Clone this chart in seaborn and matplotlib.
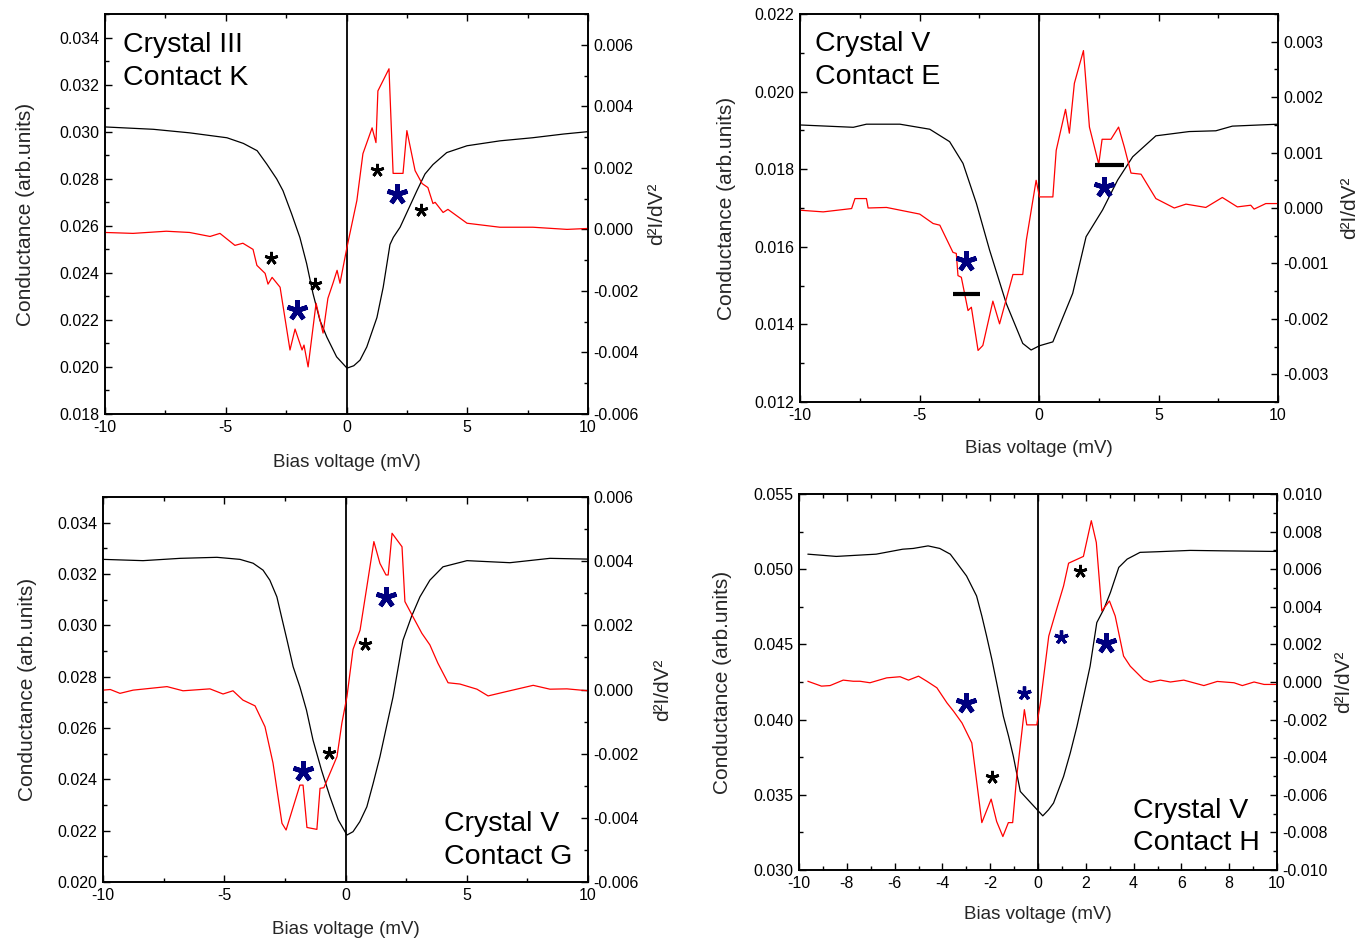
import matplotlib
matplotlib.use("Agg")
import matplotlib.pyplot as plt
import seaborn as sns
from matplotlib.ticker import MultipleLocator, FormatStrFormatter

# ---------------- data ----------------
# Panel 1: Crystal III, Contact K
p1_cond_x = [-10, -8, -6.5, -4.95, -4.27, -3.7, -3.3, -2.89, -2.63, -2.27, -1.93, -1.65, -1.39, -1.1, -0.81,
             -0.41, 0.02, 0.3, 0.56, 0.84, 1.26, 1.52, 1.8, 1.94, 2.22, 2.92, 3.25, 3.58, 4.15, 4.99, 6.36,
             7.7, 9.0, 10]
p1_cond_y = [0.0302, 0.0301, 0.02995, 0.02974, 0.0295, 0.02919, 0.02862, 0.02799, 0.02749, 0.0265, 0.0255,
             0.02439, 0.02313, 0.02198, 0.02126, 0.02043, 0.01995, 0.02005, 0.02029, 0.02085, 0.0221,
             0.02339, 0.0252, 0.02551, 0.02594, 0.0275, 0.0282, 0.0286, 0.02911, 0.0294, 0.02961, 0.02974,
             0.0299, 0.0300]
p1_d2_x = [-10, -8.84, -7.46, -6.5, -5.65, -5.24, -4.62, -4.29, -3.87, -3.71, -3.37, -3.25, -3.08, -2.75,
           -2.34, -2.13, -1.84, -1.76, -1.59, -1.26, -0.97, -0.77, -0.56, -0.39, -0.27, 0.02, 0.43, 0.68,
           1.06, 1.22, 1.3, 1.76, 1.93, 2.34, 2.5, 2.84, 3.13, 3.37, 3.58, 3.67, 4.0, 4.2, 4.99, 6.35,
           7.72, 9.13, 10]
p1_d2_y = [-0.0001, -0.00013, -0.00006, -0.0001, -0.00023, -0.00013, -0.00052, -0.00045, -0.00065, -0.00117,
           -0.00143, -0.00178, -0.00156, -0.00188, -0.00392, -0.00324, -0.00392, -0.00376, -0.00447, -0.0024,
           -0.00337, -0.00224, -0.00175, -0.00133, -0.00175, -0.00058, 0.00094, 0.00246, 0.0033, 0.00282,
           0.0045, 0.00522, 0.00182, 0.00182, 0.00321, 0.00191, 0.00149, 0.00136, 0.00084, 0.00088, 0.00055,
           0.00065, 0.0002, 0.00007, 0.00007, 0.0, 0.00003]
p1_star_x = [-3.13, -1.30, 1.25, 3.07, -2.06, 2.08]
p1_star_y = [-0.00092, -0.00176, 0.00193, 0.00064, -0.00263, 0.00116]
p1_star_kind = ["small_black", "small_black", "small_black", "small_black", "big_blue", "big_blue"]

# Panel 2: Crystal V, Contact E
p2_cond_x = [-10, -7.77, -7.22, -5.82, -4.57, -3.74, -3.18, -2.62, -2.07, -1.37, -0.68, -0.33, 0.02, 0.58,
             1.41, 1.97, 2.66, 3.29, 3.92, 4.89, 6.28, 7.4, 8.09, 10]
p2_cond_y = [0.01914, 0.01908, 0.01916, 0.01916, 0.01903, 0.01871, 0.01815, 0.01712, 0.01592, 0.01454,
             0.01351, 0.01334, 0.01345, 0.01355, 0.0148, 0.01626, 0.01695, 0.01772, 0.01832, 0.01886,
             0.01897, 0.01899, 0.01911, 0.01916]
p2_d2_x = [-10, -9.03, -7.84, -7.7, -7.22, -7.15, -6.38, -4.99, -4.43, -4.15, -3.6, -3.46, -3.39, -3.25,
           -2.97, -2.83, -2.55, -2.35, -1.93, -1.65, -1.09, -0.68, -0.53, -0.12, 0.02, 0.58, 0.72, 1.11,
           1.27, 1.48, 1.86, 2.11, 2.5, 2.64, 3.01, 3.33, 3.57, 3.85, 4.27, 4.89, 5.66, 6.15, 6.98, 7.67,
           8.3, 8.86, 9.0, 9.49, 10]
p2_d2_y = [-0.00004, -0.00007, -0.00001, 0.00017, 0.00017, 0.0, 0.00001, -0.00011, -0.00028, -0.00031,
           -0.0008, -0.00082, -0.00122, -0.00125, -0.00185, -0.00179, -0.00257, -0.00248, -0.00168, -0.00209,
           -0.0012, -0.0012, -0.00058, 0.0005, 0.0002, 0.0002, 0.00104, 0.00178, 0.00135, 0.00225, 0.00284,
           0.00146, 0.00079, 0.00124, 0.00124, 0.00146, 0.0011, 0.00063, 0.00061, 0.00017, 0.0, 0.00007,
           0.00001, 0.00019, 0.00002, 0.00005, -0.00002, 0.00008, 0.00008]
p2_star_x = [-3.04, 2.71]
p2_star_y = [-0.00095, 0.00038]
p2_star_kind = ["big_blue", "big_blue"]
p2_bar_x0 = [-3.6, 2.36]
p2_bar_x1 = [-2.46, 3.57]
p2_bar_y = [-0.00155, 0.00077]

# Panel 3: Crystal V, Contact G
p3_cond_x = [-10, -8.35, -6.82, -5.3, -4.35, -3.81, -3.4, -3.12, -2.83, -2.64, -2.41, -2.16, -1.88, -1.61,
             -1.34, -0.99, -0.64, -0.3, 0.06, 0.31, 0.59, 0.88, 1.14, 1.42, 1.69, 1.96, 2.37, 2.72, 3.07,
             3.48, 4.02, 5.01, 6.78, 8.43, 10]
p3_cond_y = [0.03257, 0.03252, 0.03261, 0.03265, 0.03257, 0.03242, 0.03215, 0.03176, 0.03111, 0.03034,
             0.02942, 0.02839, 0.0276, 0.0267, 0.02553, 0.02436, 0.02332, 0.02242, 0.02183, 0.02196,
             0.02235, 0.02293, 0.02384, 0.02488, 0.02605, 0.02721, 0.02942, 0.03034, 0.03111, 0.03176,
             0.03228, 0.03252, 0.03244, 0.03261, 0.03258]
p3_d2_x = [-10, -9.7, -9.3, -8.76, -7.36, -6.7, -5.59, -5.05, -4.64, -4.23, -3.73, -3.32, -2.99, -2.62,
           -2.45, -1.88, -1.75, -1.59, -1.18, -1.05, -0.89, -0.64, -0.35, -0.15, 0.06, 0.31, 0.6, 0.88,
           1.17, 1.42, 1.67, 1.76, 1.92, 2.33, 2.45, 2.78, 3.15, 3.48, 3.81, 4.23, 4.72, 5.42, 5.88, 6.66,
           7.74, 8.43, 9.13, 10]
p3_d2_y = [-0.00002, 0.0, -0.00012, -0.00002, 0.00009, -0.00004, 0.00002, -0.00014, -0.00004, -0.00033,
           -0.00051, -0.00116, -0.00229, -0.00417, -0.00438, -0.00298, -0.00298, -0.0043, -0.00436, -0.00308,
           -0.00306, -0.00261, -0.00209, -0.00105, -0.00022, 0.00125, 0.00185, 0.0032, 0.00461, 0.00393,
           0.00357, 0.00357, 0.00487, 0.00445, 0.00274, 0.00227, 0.00175, 0.00139, 0.00082, 0.00021,
           0.00017, 0.00001, -0.0002, -0.00006, 0.00013, 0.00001, 0.00002, -0.00004]
p3_star_x = [-1.77, 1.66, -0.68, 0.82]
p3_star_y = [-0.00254, 0.00287, -0.00199, 0.00142]
p3_star_kind = ["big_blue", "big_blue", "small_black", "small_black"]

# Panel 4: Crystal V, Contact H
p4_cond_x = [-9.63, -8.44, -6.77, -5.66, -5.22, -4.6, -4.11, -3.67, -3.41, -2.99, -2.57, -2.35, -2.15, -1.93,
             -1.73, -1.45, -1.23, -1.03, -0.74, 0.2, 0.44, 0.65, 1.07, 1.35, 1.63, 1.91, 2.18, 2.46, 2.75,
             3.03, 3.38, 3.73, 4.27, 4.98, 6.37, 7.77, 10]
p4_cond_y = [0.051, 0.05085, 0.051, 0.05133, 0.05138, 0.05155, 0.05138, 0.051, 0.05045, 0.04955, 0.04822,
             0.04689, 0.04555, 0.044, 0.04245, 0.04022, 0.03889, 0.03755, 0.03522, 0.0336, 0.034, 0.03445,
             0.03622, 0.03778, 0.03955, 0.04155, 0.04355, 0.04645, 0.04733, 0.04845, 0.05012, 0.05067,
             0.05112, 0.05116, 0.05125, 0.05122, 0.05118]
p4_d2_x = [-9.63, -9.06, -8.7, -8.15, -7.73, -7.45, -7.03, -6.33, -5.77, -5.42, -5.0, -4.65, -4.23, -3.81,
           -3.53, -3.18, -2.77, -2.35, -1.96, -1.73, -1.47, -1.24, -1.06, -0.89, -0.68, -0.57, -0.47,
           -0.05, 0.1, 0.45, 0.8, 1.07, 1.28, 1.9, 2.23, 2.44, 2.67, 2.99, 3.23, 3.58, 3.86, 4.42, 4.7,
           5.12, 5.54, 6.1, 6.94, 7.5, 8.2, 8.55, 9.04, 9.46, 10]
p4_d2_y = [0.00004, -0.00022, -0.00019, 0.0001, 0.00004, 0.00004, -0.00004, 0.00022, 0.00028, 0.0001,
           0.00031, 0.00004, -0.00031, -0.00111, -0.00156, -0.00218, -0.00324, -0.00748, -0.00623, -0.00742,
           -0.00822, -0.00748, -0.00748, -0.00502, -0.00271, -0.00147, -0.00228, -0.00228, -0.00111,
           0.00244, 0.00396, 0.00511, 0.00632, 0.00668, 0.00858, 0.00742, 0.00378, 0.00431, 0.00351,
           0.00138, 0.00084, 0.00013, -0.00001, 0.0001, 0.0, 0.0001, -0.00019, 0.00003, -0.00004,
           -0.00019, 0.0, -0.00013, -0.00013]
p4_star_x = [-3.02, -0.6, -1.93, 0.96, 1.74, 2.86]
p4_star_y = [-0.00111, -0.00061, -0.00506, 0.00239, 0.00591, 0.00205]
p4_star_kind = ["big_blue", "small_blue", "small_black", "small_blue", "small_black", "big_blue"]

panel_titles = ["Crystal III\nContact K", "Crystal V\nContact E", "Crystal V\nContact G", "Crystal V\nContact H"]
xlabel_text = "Bias voltage (mV)"
ylabel_left = "Conductance (arb.units)"
ylabel_right = "d\u00b2I/dV\u00b2"

# ---------------- style ----------------
sns.set_style("ticks")
plt.rcParams["font.family"] = ["Liberation Sans", "DejaVu Sans"]
plt.rcParams["axes.unicode_minus"] = False

NAVY = "#00007F"
STAR_STYLE = {
    "big_blue": dict(color=NAVY, ms=15, mew=3.4),
    "small_blue": dict(color=NAVY, ms=10, mew=2.4),
    "small_black": dict(color="black", ms=9.5, mew=2.0),
}

fig = plt.figure(figsize=(13.6, 9.43), dpi=100)


def style_axis(ax):
    ax.tick_params(axis="both", which="major", direction="in", length=5, width=1.0,
                   labelsize=11.5, pad=4, colors="black")
    ax.tick_params(axis="both", which="minor", direction="in", length=3, width=1.0, colors="black")
    for s in ax.spines.values():
        s.set_linewidth(1.2)
        s.set_color("black")


def draw_panel(rect, cx, cy, dx, dy, xlim, llim, rlim, xmaj, xmin, lmaj, lmin, rmaj, rmin,
               sx, sy, skind, title, tpos, tva, lcoord, rcoord, xcoord, bars=None):
    ax = fig.add_axes(rect)
    ax2 = ax.twinx()
    sns.lineplot(x=cx, y=cy, ax=ax, color="black", lw=0.9, estimator=None, sort=False)
    ax.axvline(0, color="black", lw=1.3)
    sns.lineplot(x=dx, y=dy, ax=ax2, color="#FF0000", lw=0.9, estimator=None, sort=False)
    for x, y, k in zip(sx, sy, skind):
        st = STAR_STYLE[k]
        ax2.plot([x], [y], marker=(5, 2, 0), linestyle="none", ms=st["ms"], mew=st["mew"],
                 color=st["color"], mec=st["color"])
    if bars is not None:
        for x0, x1, y in zip(*bars):
            ax2.plot([x0, x1], [y, y], color="black", lw=3.0, solid_capstyle="butt")

    ax.set_xlim(*xlim)
    ax.set_ylim(*llim)
    ax2.set_ylim(*rlim)
    ax.xaxis.set_major_locator(MultipleLocator(xmaj))
    ax.xaxis.set_minor_locator(MultipleLocator(xmin))
    ax.yaxis.set_major_locator(MultipleLocator(lmaj))
    ax.yaxis.set_minor_locator(MultipleLocator(lmin))
    ax2.yaxis.set_major_locator(MultipleLocator(rmaj))
    ax2.yaxis.set_minor_locator(MultipleLocator(rmin))
    ax.yaxis.set_major_formatter(FormatStrFormatter("%.3f"))
    ax2.yaxis.set_major_formatter(FormatStrFormatter("%.3f"))
    ax.xaxis.set_major_formatter(FormatStrFormatter("%g"))

    style_axis(ax)
    style_axis(ax2)
    ax.tick_params(axis="x", which="both", top=True, bottom=True)
    ax.tick_params(axis="y", which="both", left=True, right=False)
    ax2.tick_params(axis="y", which="both", left=False, right=True)

    ax.set_xlabel(xlabel_text, fontsize=13.5)
    ax.set_ylabel(ylabel_left, fontsize=15)
    ax2.set_ylabel(ylabel_right, fontsize=15)
    ax.xaxis.set_label_coords(0.5, xcoord)
    ax.yaxis.set_label_coords(lcoord, 0.5)
    ax2.yaxis.set_label_coords(rcoord, 0.5)

    ax.text(tpos[0], tpos[1], title, transform=ax.transAxes, ha="left", va=tva,
            fontsize=20.5, color="black", linespacing=1.33, zorder=10)
    ax.set_zorder(ax2.get_zorder() - 1)
    ax.patch.set_visible(False)
    ax2.patch.set_visible(False)
    return ax, ax2


# Panel 1
draw_panel([105 / 1360, 1 - 414 / 943, 483 / 1360, 400 / 943],
           p1_cond_x, p1_cond_y, p1_d2_x, p1_d2_y,
           (-10, 10), (0.018, 0.035), (-0.006, 0.007), 5, 2.5, 0.002, 0.001, 0.002, 0.001,
           p1_star_x, p1_star_y, p1_star_kind, panel_titles[0], (0.038, 0.955), "top",
           -0.145, 1.122, -0.1)
# Panel 2
draw_panel([800 / 1360, 1 - 402 / 943, 478 / 1360, 388 / 943],
           p2_cond_x, p2_cond_y, p2_d2_x, p2_d2_y,
           (-10, 10), (0.012, 0.022), (-0.0035, 0.0035), 5, 2.5, 0.002, 0.001, 0.001, 0.0005,
           p2_star_x, p2_star_y, p2_star_kind, panel_titles[1], (0.032, 0.955), "top",
           -0.133, 1.13, -0.098, bars=(p2_bar_x0, p2_bar_x1, p2_bar_y))
# Panel 3
draw_panel([103 / 1360, 1 - 882 / 943, 485 / 1360, 385 / 943],
           p3_cond_x, p3_cond_y, p3_d2_x, p3_d2_y,
           (-10, 10), (0.020, 0.035), (-0.006, 0.006), 5, 2.5, 0.002, 0.001, 0.002, 0.001,
           p3_star_x, p3_star_y, p3_star_kind, panel_titles[2], (0.703, 0.032), "bottom",
           -0.137, 1.134, -0.1)
# Panel 4
draw_panel([799 / 1360, 1 - 870 / 943, 478 / 1360, 376 / 943],
           p4_cond_x, p4_cond_y, p4_d2_x, p4_d2_y,
           (-10, 10), (0.030, 0.055), (-0.010, 0.010), 2, 1, 0.005, 0.0025, 0.002, 0.001,
           p4_star_x, p4_star_y, p4_star_kind, panel_titles[3], (0.698, 0.036), "bottom",
           -0.14, 1.12, -0.095)

fig.savefig("out.png", dpi=100)
